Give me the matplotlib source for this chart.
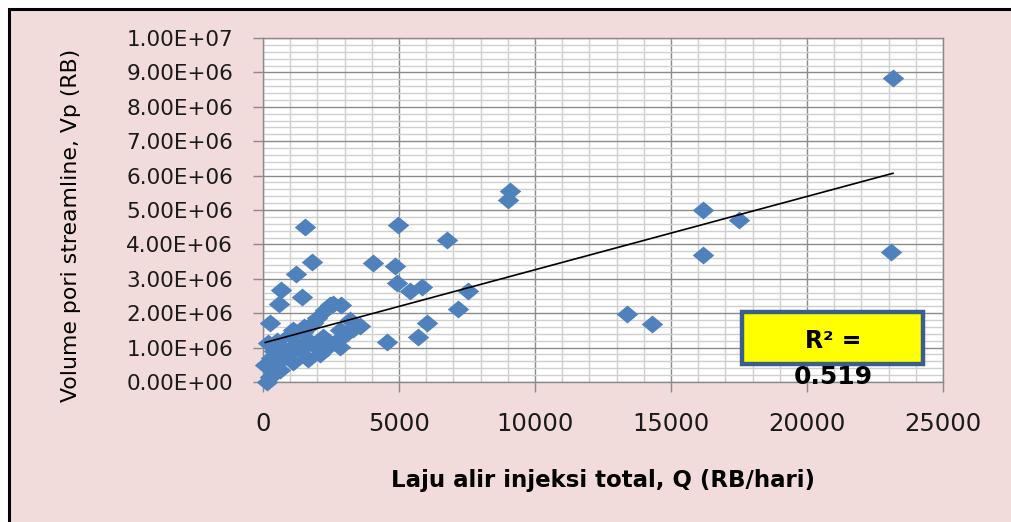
import numpy as np
import matplotlib.pyplot as plt
from matplotlib.patches import Rectangle
from matplotlib.ticker import FuncFormatter, MultipleLocator

plt.rcParams['font.family'] = ['DejaVu Sans']

# injection rate Q (RB/day) and streamline pore volume Vp (RB)
q_rate = [23160, 23090, 16180, 17500, 16180, 13380, 14300, 9080, 9000, 6760,
          7550, 7170, 6030, 5700, 5850, 5400, 4930, 4960, 4850, 4040,
          4560, 3570, 1560, 1800, 1220, 660, 600, 1420, 257, 2570,
          2880, 2280, 1990, 3200, 2830, 3090, 2760, 2830, 2460, 2200,
          2100, 1840, 1470, 990, 1650, 1360, 1100, 735, 515, 180,
          150, 80, 257, 620, 2460, 3300, 1700, 1200, 900, 400,
          300, 500, 2000, 1500, 1100]
vp = [8.84e6, 3.78e6, 5.00e6, 4.71e6, 3.69e6, 1.98e6, 1.69e6, 5.55e6, 5.28e6, 4.13e6,
      2.64e6, 2.11e6, 1.72e6, 1.31e6, 2.76e6, 2.64e6, 2.88e6, 4.56e6, 3.37e6, 3.46e6,
      1.15e6, 1.62e6, 4.50e6, 3.48e6, 3.14e6, 2.68e6, 2.27e6, 2.48e6, 1.72e6, 2.28e6,
      2.25e6, 2.08e6, 1.86e6, 1.80e6, 1.51e6, 1.42e6, 1.22e6, 1.02e6, 1.08e6, 1.31e6,
      0.80e6, 1.72e6, 1.45e6, 1.37e6, 0.66e6, 0.93e6, 0.58e6, 0.99e6, 0.55e6, 1.13e6,
      0.0, 0.49e6, 0.15e6, 0.35e6, 2.24e6, 1.55e6, 1.20e6, 1.10e6, 0.80e6, 0.90e6,
      0.70e6, 1.20e6, 1.00e6, 1.60e6, 1.50e6]

# linear trendline (as drawn in the picture)
trend_slope = 213.1
trend_icpt = 1.132e6
r2_text = "0.519"

x_ticks = [0, 5000, 10000, 15000, 20000, 25000]

fig = plt.figure(figsize=(10.11, 5.22), dpi=100, facecolor='white')
# pink chart area with black frame
frame = Rectangle((9 / 1011, -0.1), 1.1, 1.1 - 9 / 522,
                  transform=fig.transFigure, facecolor='#F2DCDB',
                  edgecolor='black', linewidth=2.2, zorder=-5)
fig.add_artist(frame)

ax = fig.add_axes([263 / 1011, 1 - 382 / 522, 680 / 1011, 344 / 522])
ax.set_zorder(1)
ax.set_facecolor('white')

ax.set_xlim(0, 25000)
ax.set_ylim(0, 1.0e7)
ax.xaxis.set_minor_locator(MultipleLocator(1000))
ax.yaxis.set_major_locator(MultipleLocator(1e6))
ax.yaxis.set_minor_locator(MultipleLocator(2e5))
ax.set_xticks(x_ticks)
ax.set_xticklabels([str(t) for t in x_ticks])
ax.yaxis.set_major_formatter(FuncFormatter(lambda v, p: f"{v:.2E}"))

ax.grid(which='minor', color='#CFCFCF', linewidth=1.0, zorder=0)
ax.grid(which='major', color='#8A8A8A', linewidth=1.0, zorder=0)
ax.set_axisbelow(True)
for s in ax.spines.values():
    s.set_color('#8A8A8A')
    s.set_linewidth(1.0)

ax.tick_params(which='major', direction='out', length=7.5, width=1.0, color='#8A8A8A',
               labelcolor='#1a1a1a')
ax.tick_params(axis='y', pad=14, labelsize=15.5)
ax.tick_params(axis='x', pad=14, labelsize=17.5)
ax.tick_params(which='minor', length=0)

# diamond markers, slightly wider than tall
diamond = [(0, 1), (1.2, 0), (0, -1), (-1.2, 0), (0, 1)]
ax.scatter(q_rate, vp, marker=diamond, s=240, color='#4F81BD', linewidths=0, zorder=3,
           clip_on=False)

tx = np.array([min(q_rate), max(q_rate)])
ax.plot(tx, trend_slope * tx + trend_icpt, color='black', linewidth=1.2, zorder=4)

ax.set_xlabel('Laju alir injeksi total, Q (RB/hari)', fontsize=16.5, fontweight='bold',
              va='center')
ax.xaxis.set_label_coords(0.5, (382 - 480) / 344)
ax.set_ylabel('Volume pori streamline, Vp (RB)', fontsize=15.8, va='center')
ax.yaxis.set_label_coords((71 - 263) / 680, (382 - 225) / 344)

# R^2 box
ax.add_patch(Rectangle((0.704, 0.052), 0.267, 0.151, transform=ax.transAxes,
                       facecolor='#FFFF00', edgecolor='#3A5F8D', linewidth=3.2, zorder=5,
                       clip_on=False))
ax.text(0.838, (382 - 341) / 344, 'R² =', transform=ax.transAxes, ha='center',
        va='center', fontsize=17, fontweight='bold', zorder=6)
ax.text(0.838, (382 - 377) / 344, r2_text, transform=ax.transAxes, ha='center',
        va='center', fontsize=18, fontweight='bold', zorder=6, clip_on=False)

fig.savefig('out.png', dpi=100, facecolor='white')
